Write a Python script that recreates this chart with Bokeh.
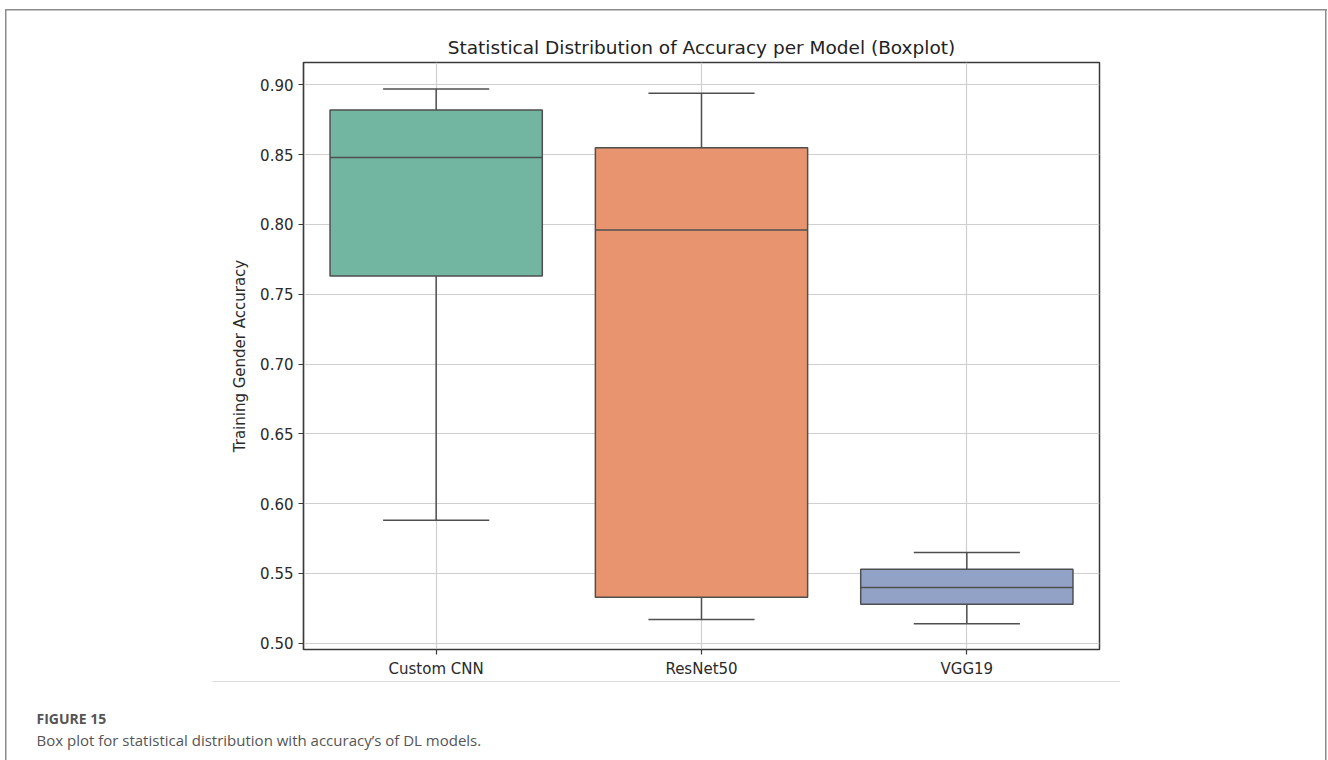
from bokeh.plotting import figure
from bokeh.models import FixedTicker, Range1d, Title, ColumnDataSource
from bokeh.embed import file_html
from bokeh.resources import INLINE

# Box-plot summary per model
models = ["Custom CNN", "ResNet50", "VGG19"]
whisker_low = [0.588, 0.517, 0.514]
q1 = [0.763, 0.533, 0.528]
median = [0.848, 0.796, 0.540]
q3 = [0.882, 0.855, 0.553]
whisker_high = [0.897, 0.894, 0.565]
box_colors = ["#72b5a0", "#e8956f", "#92a1c6"]
y_ticks = [0.50, 0.55, 0.60, 0.65, 0.70, 0.75, 0.80, 0.85, 0.90]

fig_label = "FIGURE 15"
caption = "Box plot for statistical distribution with accuracy\u2019s of DL models."

W, H = 1328, 760
FL, FR, FT, FB = 303, 1099, 62, 649   # plot frame edges in page pixels

pos = list(range(len(models)))
box_w, cap_w = 0.8, 0.4

src = ColumnDataSource(dict(
    x=pos, lo=whisker_low, q1=q1, med=median, q3=q3, hi=whisker_high, color=box_colors,
    bl=[p - box_w / 2 for p in pos], br=[p + box_w / 2 for p in pos],
    cl=[p - cap_w / 2 for p in pos], cr=[p + cap_w / 2 for p in pos],
))

p = figure(width=W, height=H, output_backend="svg", toolbar_location=None,
           x_range=Range1d(-0.5, len(models) - 0.5), y_range=Range1d(0.4955, 0.916),
           min_border_left=FL, min_border_right=W - FR,
           min_border_top=FT, min_border_bottom=H - FB,
           title="Statistical Distribution of Accuracy per Model (Boxplot)")
p.background_fill_color = "white"
p.border_fill_color = None
p.outline_line_color = "#3a3a3a"
p.outline_line_width = 1.5

# page panel: thin grey frame (open at the bottom) and a light rule under the chart
frame_c, rule_c = "#8c8c8c", "#dedede"
layers = [
    f"linear-gradient({frame_c},{frame_c}) 5px 9px / 1322px 1.5px no-repeat",
    f"linear-gradient({frame_c},{frame_c}) 5px 9px / 1.5px {H}px no-repeat",
    f"linear-gradient({frame_c},{frame_c}) 1325px 9px / 1.5px {H}px no-repeat",
    f"linear-gradient({rule_c},{rule_c}) 212px 681px / 908px 1px no-repeat",
    "#ffffff",
]
p.styles = {"background": ", ".join(layers)}

p.title.align = "center"
p.title.text_font = "DejaVu Sans"
p.title.text_font_size = "18.5px"
p.title.text_font_style = "normal"
p.title.text_color = "#222222"
p.title.standoff = 9

edge = "#4f4f4f"
# whiskers, boxes, medians, caps
p.segment(x0="x", y0="lo", x1="x", y1="q1", source=src, line_color=edge, line_width=1.5)
p.segment(x0="x", y0="q3", x1="x", y1="hi", source=src, line_color=edge, line_width=1.5)
p.quad(left="bl", right="br", bottom="q1", top="q3", source=src,
       fill_color="color", line_color=edge, line_width=1.5)
p.segment(x0="bl", y0="med", x1="br", y1="med", source=src, line_color=edge, line_width=1.5)
p.segment(x0="cl", y0="lo", x1="cr", y1="lo", source=src, line_color=edge, line_width=1.5)
p.segment(x0="cl", y0="hi", x1="cr", y1="hi", source=src, line_color=edge, line_width=1.5)

for ax in (p.xaxis[0], p.yaxis[0]):
    ax.axis_line_color = "#3a3a3a"
    ax.axis_line_width = 1.2
    ax.major_tick_line_color = "#3a3a3a"
    ax.major_tick_line_width = 1.2
    ax.major_tick_in = 0
    ax.major_tick_out = 5
    ax.minor_tick_line_color = None
    ax.major_label_text_font = "DejaVu Sans"
    ax.major_label_text_font_size = "15px"
    ax.major_label_text_color = "#2a2a2a"
    ax.major_label_standoff = 5

p.xaxis.ticker = FixedTicker(ticks=pos)
p.xaxis.major_label_overrides = {i: m for i, m in enumerate(models)}
p.yaxis.ticker = FixedTicker(ticks=y_ticks)
p.yaxis.major_label_overrides = {t: f"{t:.2f}" for t in y_ticks}
p.yaxis.axis_label = "Training Gender Accuracy"
p.yaxis.axis_label_text_font = "DejaVu Sans"
p.yaxis.axis_label_text_font_size = "15px"
p.yaxis.axis_label_text_font_style = "normal"
p.yaxis.axis_label_text_color = "#2a2a2a"
p.yaxis.axis_label_standoff = 8

p.xgrid.ticker = FixedTicker(ticks=pos)
p.ygrid.ticker = FixedTicker(ticks=y_ticks)
for g in (p.xgrid[0], p.ygrid[0]):
    g.grid_line_color = "#cfcfcf"
    g.grid_line_width = 1.2

# figure caption below the chart: a blank spacer row, then the label and the caption
p.add_layout(Title(text=" ", text_font="Open Sans", text_font_size="14px",
                   standoff=5.35), "below")
p.add_layout(Title(text=fig_label, align="left", offset=36 - FL,
                   text_font="Open Sans", text_font_size="14px", text_font_style="bold",
                   text_color="#555555", standoff=0), "below")
p.add_layout(Title(text=caption, align="left", offset=36 - FL,
                   text_font="Open Sans", text_font_size="15px", text_font_style="normal",
                   text_color="#555555", standoff=0.5), "below")

open("out.html", "w").write(file_html(p, INLINE))
